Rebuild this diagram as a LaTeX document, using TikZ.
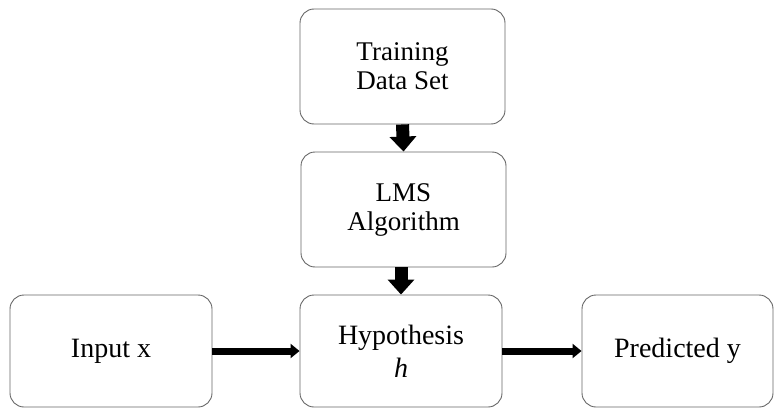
\documentclass[tikz,border=0pt]{standalone}
\usepackage{fontspec}
\setmainfont{Liberation Serif}
\usetikzlibrary{arrows.meta}
\tikzset{
  flowbox/.style={draw=black!60, line width=0.9pt, rounded corners=14pt, align=center,
    inner sep=0pt, font=\fontsize{27}{29}\selectfont},
  blockarrow/.style={line width=13pt, -{Triangle[width=26pt,length=15pt]}},
  flatarrow/.style={line width=7pt, -{Triangle[width=14pt,length=9pt]}}
}
\begin{document}
\begin{tikzpicture}[x=1pt,y=-1pt]
\useasboundingbox (0,0) rectangle (775,409);
\node[flowbox, minimum width=205pt, minimum height=115pt] (train) at (402.5,66.5) {Training\\Data Set};
\node[flowbox, minimum width=205pt, minimum height=115pt] (lms) at (403.5,209.5) {LMS\\Algorithm};
\node[flowbox, minimum width=202pt, minimum height=112pt, font=\fontsize{28}{33}\selectfont] (hyp) at (401,351) {Hypothesis\\\textit{h}};
\node[flowbox, minimum width=202pt, minimum height=112pt, font=\fontsize{28}{30}\selectfont] (input) at (111,351) {Input x};
\node[flowbox, minimum width=191pt, minimum height=112pt, font=\fontsize{28}{30}\selectfont] (pred) at (677.5,351) {Predicted y};
\draw[blockarrow] (train.south) -- (lms.north);
\draw[blockarrow] (hyp.north |- lms.south) -- (hyp.north);
\draw[flatarrow] (input.east) -- (hyp.west);
\draw[flatarrow] (hyp.east) -- (pred.west);
\end{tikzpicture}
\end{document}
